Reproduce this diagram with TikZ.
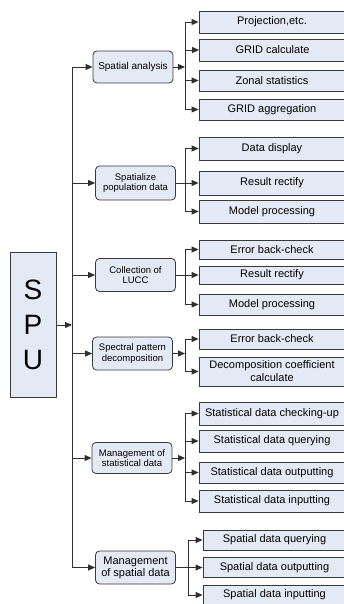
\documentclass[tikz,border=0pt]{standalone}
\usepackage{fontspec}
\setmainfont{Liberation Sans}
\usetikzlibrary{arrows.meta}

\definecolor{boxfill}{HTML}{E4EAF5}
\definecolor{boxline}{HTML}{3A3A3A}
\definecolor{wire}{HTML}{303030}

\tikzset{
  grp/.style={draw=boxline,fill=boxfill,line width=.8pt,rounded corners=4pt,
    minimum width=80pt,minimum height=33pt,inner sep=1pt,align=center,
    font=\fontsize{9.5}{10.5}\selectfont},
  leaf/.style={draw=boxline,fill=boxfill,line width=.8pt,minimum width=146pt,
    minimum height=22pt,inner sep=1pt,align=center,
    font=\fontsize{11}{13}\selectfont},
  wireline/.style={draw=wire,line width=.9pt},
  arr/.style={wireline,-{Triangle[length=7pt,width=6pt]}}
}

\begin{document}
\begin{tikzpicture}[x=1pt,y=-1pt]
  \clip (0,0) rectangle (344,604);

  % root
  \node[draw=boxline,fill=boxfill,line width=.8pt,minimum width=46pt,
    minimum height=145pt,align=center,inner sep=0pt,
    font=\fontsize{28}{35}\selectfont] (spu) at (33,325) {S\\P\\U};
  \coordinate (trunk) at (72,0);

  % second level
  \node[grp,font=\fontsize{10}{12}\selectfont,minimum height=32pt] (ga) at (133,67) {Spatial analysis};
  \node[grp,minimum height=34pt] (gb) at (135.5,183) {Spatialize\\population data};
  \node[grp] (gc) at (135.5,275) {Collection of\\LUCC};
  \node[grp] (gd) at (132.5,353.5) {Spectral pattern\\decomposition};
  \node[grp,minimum height=31pt] (ge) at (132,458) {Management of\\statistical data};
  \node[grp,font=\fontsize{11}{12.3}\selectfont] (gf) at (135.5,567.5) {Management\\of spatial data};

  % leaves
  \node[leaf] (a1) at (272,22) {Projection,etc.};
  \node[leaf] (a2) at (272.5,50) {GRID calculate};
  \node[leaf,minimum height=21pt] (a3) at (272,80.5) {Zonal statistics};
  \node[leaf,minimum height=21pt] (a4) at (272,109.5) {GRID aggregation};

  \node[leaf,minimum height=23pt] (b1) at (272,148.5) {Data display};
  \node[leaf,minimum height=24pt] (b2) at (272,183) {Result rectify};
  \node[leaf,minimum height=23pt] (b3) at (272,211.5) {Model processing};

  \node[leaf,minimum height=19pt] (c1) at (272,249.5) {Error back-check};
  \node[leaf,minimum height=18pt] (c2) at (272,275) {Result rectify};
  \node[leaf,minimum height=21pt] (c3) at (272,304.5) {Model processing};

  \node[leaf,minimum height=20pt] (d1) at (272,339) {Error back-check};
  \node[leaf,minimum height=29pt] (d2) at (272,371.5) {Decomposition coefficient\\calculate};

  \node[leaf,minimum height=23pt] (e1) at (272,413.5) {Statistical data checking-up};
  \node[leaf] (e2) at (272,441) {Statistical data querying};
  \node[leaf,minimum height=21pt] (e3) at (272,472.5) {Statistical data outputting};
  \node[leaf] (e4) at (272,501) {Statistical data inputting};

  \node[leaf,minimum width=143pt,minimum height=20pt] (f1) at (274.5,540) {Spatial data querying};
  \node[leaf,minimum width=143pt,minimum height=20pt] (f2) at (274.5,567.5) {Spatial data outputting};
  \node[leaf,minimum width=143pt,minimum height=20pt] (f3) at (274.5,595) {Spatial data inputting};

  % trunk
  \draw[arr] (spu.east) -- (spu.east -| trunk);
  \draw[wireline] (ga.west -| trunk) -- (gf.west -| trunk);
  \foreach \g in {ga,gb,gc,gd,ge,gf}
    \draw[arr] (\g.west -| trunk) -- (\g.west);

  % branches
  \coordinate (bx) at (185,0);
  \coordinate (fx) at (188,0);
  \foreach \g/\kids in {ga/{a1,a2,a3,a4},gd/{d1,d2},ge/{e1,e2,e3,e4}} {
    \draw[arr] (\g.east) -- (\g.east -| bx);
    \foreach \k in \kids
      \draw[arr] (\g.east -| bx) |- (\k.west);
  }
  \foreach \g/\kids in {gb/{b1,b2,b3},gc/{c1,c2,c3}} {
    \draw[wireline] (\g.east) -- (\g.east -| bx);
    \foreach \k in \kids
      \draw[arr] (\g.east -| bx) |- (\k.west);
  }
  \draw[wireline] (gf.east) -- (gf.east -| fx);
  \foreach \k in {f1,f2,f3}
    \draw[arr] (gf.east -| fx) |- (\k.west);
\end{tikzpicture}
\end{document}
